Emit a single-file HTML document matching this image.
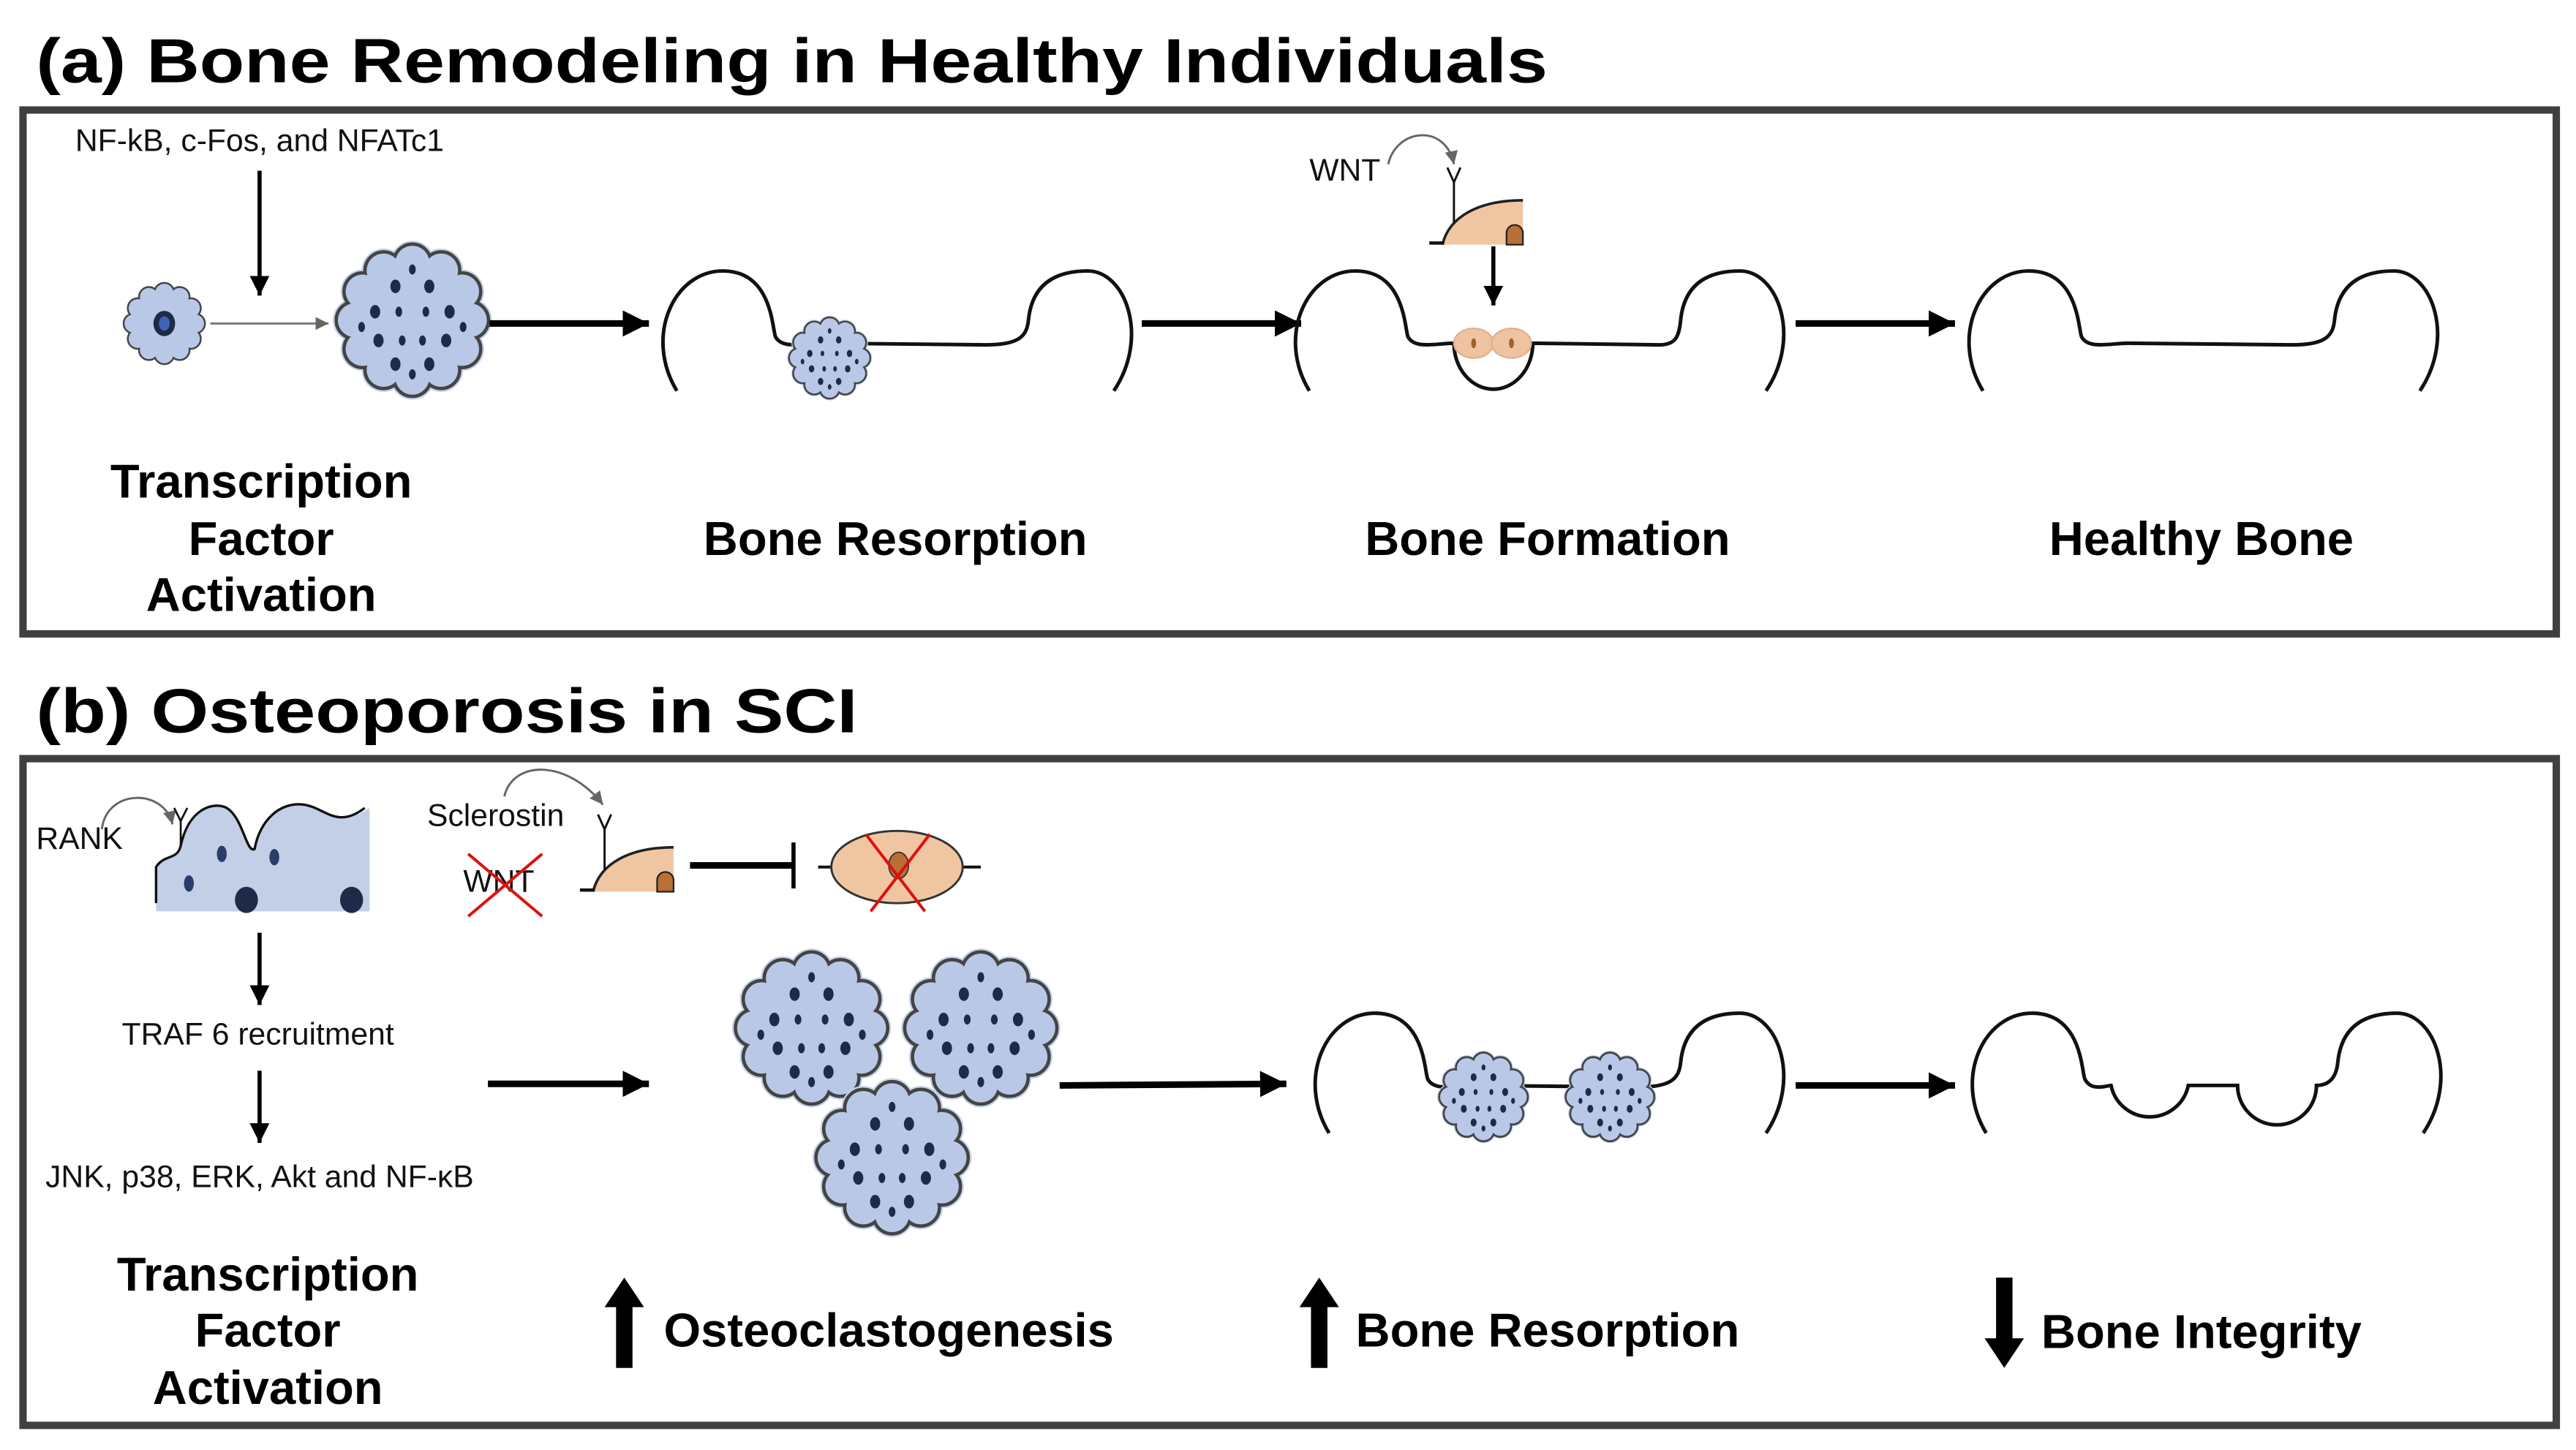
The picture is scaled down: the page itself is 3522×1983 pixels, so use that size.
<!DOCTYPE html>
<html><head><meta charset="utf-8"><style>
html,body{margin:0;padding:0;background:#fff;}
svg{display:block;}
text{font-family:"Liberation Sans",Arial,sans-serif;}
.t{font-weight:bold;font-size:38px;fill:#000;}
.l{font-weight:bold;font-size:29px;fill:#000;text-anchor:middle;}
.s{font-size:19px;fill:#111;}
.bone{fill:none;stroke:#111;stroke-width:2.2;}
</style></head><body>
<svg width="3522" height="1983" viewBox="0 0 1568 883" preserveAspectRatio="none" xmlns="http://www.w3.org/2000/svg">
<defs>
<marker id="ah" markerUnits="userSpaceOnUse" markerWidth="20" markerHeight="20" refX="16" refY="8" orient="auto"><path d="M0,0 L16,8 L0,16 Z" fill="#000"/></marker>
<marker id="ahs" markerUnits="userSpaceOnUse" markerWidth="14" markerHeight="14" refX="12" refY="6" orient="auto"><path d="M0,0 L12,6 L0,12 Z" fill="#000"/></marker>
<marker id="ahg" markerUnits="userSpaceOnUse" markerWidth="10" markerHeight="10" refX="8" refY="4" orient="auto"><path d="M0,0 L8,4 L0,8 Z" fill="#666"/></marker>
<g id="flw">
<circle r="34"/>
<circle cx="34" cy="0" r="10"/><circle cx="29.4" cy="17" r="10"/><circle cx="17" cy="29.4" r="10"/><circle cx="0" cy="34" r="10"/><circle cx="-17" cy="29.4" r="10"/><circle cx="-29.4" cy="17" r="10"/><circle cx="-34" cy="0" r="10"/><circle cx="-29.4" cy="-17" r="10"/><circle cx="-17" cy="-29.4" r="10"/><circle cx="0" cy="-34" r="10"/><circle cx="17" cy="-29.4" r="10"/><circle cx="29.4" cy="-17" r="10"/>
</g>
<g id="dots" fill="#1d2a48">
<ellipse cx="-10" cy="-20" rx="3" ry="4"/><ellipse cx="10" cy="-20" rx="3" ry="4"/><ellipse cx="-22" cy="-5" rx="3" ry="4"/><ellipse cx="22" cy="-5" rx="3" ry="4"/><ellipse cx="-8" cy="-5" rx="2" ry="3"/><ellipse cx="8" cy="-5" rx="2" ry="3"/><ellipse cx="-20" cy="12" rx="3" ry="4"/><ellipse cx="20" cy="12" rx="3" ry="4"/><ellipse cx="-6" cy="12" rx="2" ry="3"/><ellipse cx="6" cy="12" rx="2" ry="3"/><ellipse cx="-10" cy="26" rx="3" ry="4"/><ellipse cx="10" cy="26" rx="3" ry="4"/><ellipse cx="0" cy="-30" rx="2" ry="3"/><ellipse cx="0" cy="32" rx="2" ry="3"/><ellipse cx="-30" cy="4" rx="2" ry="3"/><ellipse cx="30" cy="4" rx="2" ry="3"/>
</g>
<g id="cell">
<use href="#flw" fill="#c7d3ea" stroke="#c7d3ea" stroke-width="6"/>
<use href="#flw" fill="#555" stroke="#444" stroke-width="4"/>
<use href="#flw" fill="#b9c8e6"/>
<use href="#dots"/>
</g>
<path id="bone" d="M12,73 C-8,40 10,0 40,0 C70,0 70,35 72,40 C76,48 90,44 100,44 L200,45 C220,45 225,40 226,30 C228,10 240,0 262,0 C285,0 300,40 278,73"/>
<path id="boneD" d="M12,73 C-8,40 10,0 40,0 C70,0 70,35 72,40 C76,48 85,44 88,44 A24,24 0 0 0 135,44 L165,44 A24,24 0 0 0 213,44 C220,44 225,40 226,30 C228,10 240,0 262,0 C285,0 300,40 278,73"/>
<g id="ob">
<path d="M8,27 C12,10 30,0 57,0 L57,27 Z" fill="#f0c6a2" stroke="none"/>
<path d="M8,27 C12,10 30,0 57,0" fill="none" stroke="#222" stroke-width="1.6"/>
<path d="M47,27 L47,20 A5,5 0 0 1 57,20 L57,27 Z" fill="#b96f35" stroke="#222" stroke-width="1"/>
<line x1="0" y1="26" x2="9" y2="26" stroke="#111" stroke-width="2"/>
<line x1="15" y1="14" x2="15" y2="-12" stroke="#111" stroke-width="1.3"/>
<path d="M11,-20 L15,-11 L19,-20" fill="none" stroke="#111" stroke-width="1.3"/>
</g>
</defs>

<!-- Panel a -->
<text class="t" x="22" y="50" textLength="920" lengthAdjust="spacingAndGlyphs">(a) Bone Remodeling in Healthy Individuals</text>
<rect x="14" y="67" width="1542" height="319" fill="none" stroke="#404040" stroke-width="4.5"/>
<text class="s" x="158" y="92" text-anchor="middle">NF-kB, c-Fos, and NFATc1</text>
<line x1="158" y1="104" x2="158" y2="180" stroke="#000" stroke-width="2.5" marker-end="url(#ahs)"/>
<g transform="translate(100,197) scale(0.55)">
<use href="#flw" fill="#444" stroke="#444" stroke-width="4"/><use href="#flw" fill="#b9c8e6"/>
<ellipse rx="12" ry="14" fill="#1d2a48"/><ellipse rx="6" ry="8" fill="#3f62b5"/>
</g>
<line x1="128" y1="197" x2="200" y2="197" stroke="#777" stroke-width="1.3" marker-end="url(#ahg)"/>
<use href="#cell" transform="translate(251,195) scale(1.03)"/>
<line x1="298" y1="197" x2="395" y2="197" stroke="#000" stroke-width="4" marker-end="url(#ah)"/>
<use href="#bone" class="bone" transform="translate(400,165)"/>
<use href="#cell" transform="translate(505,218) scale(0.55)"/>
<line x1="695" y1="197" x2="792" y2="197" stroke="#000" stroke-width="4" marker-end="url(#ah)"/>
<path class="bone" d="M797,238 C777,205 795,165 825,165 C855,165 855,200 857,205 C861,213 875,209 885,209 A24,28 0 0 0 933,209 L1010,210 C1020,210 1022,205 1023,195 C1025,175 1037,165 1059,165 C1082,165 1097,205 1075,238"/>
<ellipse cx="897" cy="209" rx="12" ry="9" fill="#efc3a0" stroke="#e0b090" stroke-width="1"/>
<ellipse cx="920" cy="209" rx="12" ry="9" fill="#efc3a0" stroke="#e0b090" stroke-width="1"/>
<ellipse cx="897" cy="209" rx="1.5" ry="3" fill="#a0602c"/><ellipse cx="920" cy="209" rx="1.5" ry="3" fill="#a0602c"/>
<use href="#ob" transform="translate(870,122)"/>
<path d="M845,100 C850,78 880,75 885,100" fill="none" stroke="#666" stroke-width="1.3" marker-end="url(#ahg)"/>
<text class="s" x="797" y="110">WNT</text>
<line x1="909" y1="150" x2="909" y2="186" stroke="#000" stroke-width="2.5" marker-end="url(#ahs)"/>
<line x1="1093" y1="197" x2="1190" y2="197" stroke="#000" stroke-width="4" marker-end="url(#ah)"/>
<use href="#bone" class="bone" transform="translate(1195,165)"/>
<text class="l" x="159" y="303">Transcription</text>
<text class="l" x="159" y="338">Factor</text>
<text class="l" x="159" y="372">Activation</text>
<text class="l" x="545" y="338">Bone Resorption</text>
<text class="l" x="942" y="338">Bone Formation</text>
<text class="l" x="1340" y="338">Healthy Bone</text>

<!-- Panel b -->
<text class="t" x="22" y="446" textLength="500" lengthAdjust="spacingAndGlyphs">(b) Osteoporosis in SCI</text>
<rect x="14" y="462" width="1542" height="406" fill="none" stroke="#404040" stroke-width="4.5"/>
<text class="s" x="22" y="517">RANK</text>
<path d="M62,505 C65,480 100,480 105,502" fill="none" stroke="#666" stroke-width="1.3" marker-end="url(#ahg)"/>
<path d="M95,555 L95,528 C100,520 108,524 110,515 C115,492 130,488 138,492 C148,498 150,520 155,517 C158,500 170,488 185,490 C198,492 205,505 225,492 L225,555 Z" fill="#c3cfe7" stroke="none"/>
<path d="M95,550 L95,528 C100,520 108,524 110,515 C115,492 130,488 138,492 C148,498 150,520 155,517 C158,500 170,488 185,490 C198,492 205,505 222,492" fill="none" stroke="#111" stroke-width="1.5"/>
<line x1="110" y1="515" x2="110" y2="500" stroke="#111" stroke-width="1.2"/>
<path d="M106,492 L110,500 L114,492" fill="none" stroke="#111" stroke-width="1.2"/>
<ellipse cx="135" cy="520" rx="3" ry="5" fill="#2b3c6a"/><ellipse cx="167" cy="522" rx="3" ry="5" fill="#2b3c6a"/><ellipse cx="115" cy="538" rx="3" ry="5" fill="#2b3c6a"/>
<ellipse cx="150" cy="548" rx="7" ry="8" fill="#1d2a48"/><ellipse cx="214" cy="548" rx="7" ry="8" fill="#1d2a48"/>
<text class="s" x="260" y="503">Sclerostin</text>
<path d="M307,485 C312,463 345,462 367,490" fill="none" stroke="#666" stroke-width="1.3" marker-end="url(#ahg)"/>
<use href="#ob" transform="translate(353,516)"/>
<text class="s" x="282" y="543">WNT</text>
<line x1="285" y1="520" x2="330" y2="558" stroke="#d11" stroke-width="1.8"/>
<line x1="330" y1="520" x2="285" y2="558" stroke="#d11" stroke-width="1.8"/>
<line x1="420" y1="527" x2="483" y2="527" stroke="#000" stroke-width="4"/>
<line x1="483" y1="513" x2="483" y2="541" stroke="#000" stroke-width="2.5"/>
<line x1="498" y1="528" x2="597" y2="528" stroke="#111" stroke-width="1.8"/>
<ellipse cx="546" cy="528" rx="40" ry="22" fill="#f0c6a2" stroke="#333" stroke-width="1.3"/>
<ellipse cx="547" cy="527" rx="6" ry="8" fill="#b96f35" stroke="#333" stroke-width="0.8"/>
<line x1="527" y1="508" x2="563" y2="555" stroke="#d11" stroke-width="1.8"/>
<line x1="566" y1="508" x2="530" y2="555" stroke="#d11" stroke-width="1.8"/>
<line x1="158" y1="568" x2="158" y2="612" stroke="#000" stroke-width="2.5" marker-end="url(#ahs)"/>
<text class="s" x="157" y="636" text-anchor="middle">TRAF 6 recruitment</text>
<line x1="158" y1="652" x2="158" y2="696" stroke="#000" stroke-width="2.5" marker-end="url(#ahs)"/>
<text class="s" x="158" y="723" text-anchor="middle">JNK, p38, ERK, Akt and NF-κB</text>
<line x1="297" y1="660" x2="395" y2="660" stroke="#000" stroke-width="4" marker-end="url(#ah)"/>
<use href="#cell" transform="translate(494,626) scale(1.03)"/>
<use href="#cell" transform="translate(597,626) scale(1.03)"/>
<use href="#cell" transform="translate(543,705) scale(1.03)"/>
<line x1="645" y1="661" x2="783" y2="660" stroke="#000" stroke-width="4" marker-end="url(#ah)"/>
<use href="#bone" class="bone" transform="translate(797,617)"/>
<use href="#cell" transform="translate(903,668) scale(0.6)"/>
<use href="#cell" transform="translate(980,668) scale(0.6)"/>
<line x1="1093" y1="661" x2="1190" y2="661" stroke="#000" stroke-width="4" marker-end="url(#ah)"/>
<use href="#boneD" class="bone" transform="translate(1197,617)"/>
<text class="l" x="163" y="786">Transcription</text>
<text class="l" x="163" y="820">Factor</text>
<text class="l" x="163" y="855">Activation</text>
<path d="M380,778 L392,796 L385,796 L385,833 L375,833 L375,796 L368,796 Z" fill="#000"/>
<text class="l" x="541" y="820">Osteoclastogenesis</text>
<path d="M803,778 L815,796 L808,796 L808,833 L798,833 L798,796 L791,796 Z" fill="#000"/>
<text class="l" x="942" y="820">Bone Resorption</text>
<path d="M1220,833 L1232,815 L1225,815 L1225,778 L1215,778 L1215,815 L1208,815 Z" fill="#000"/>
<text class="l" x="1340" y="821">Bone Integrity</text>
</svg>
</body></html>
